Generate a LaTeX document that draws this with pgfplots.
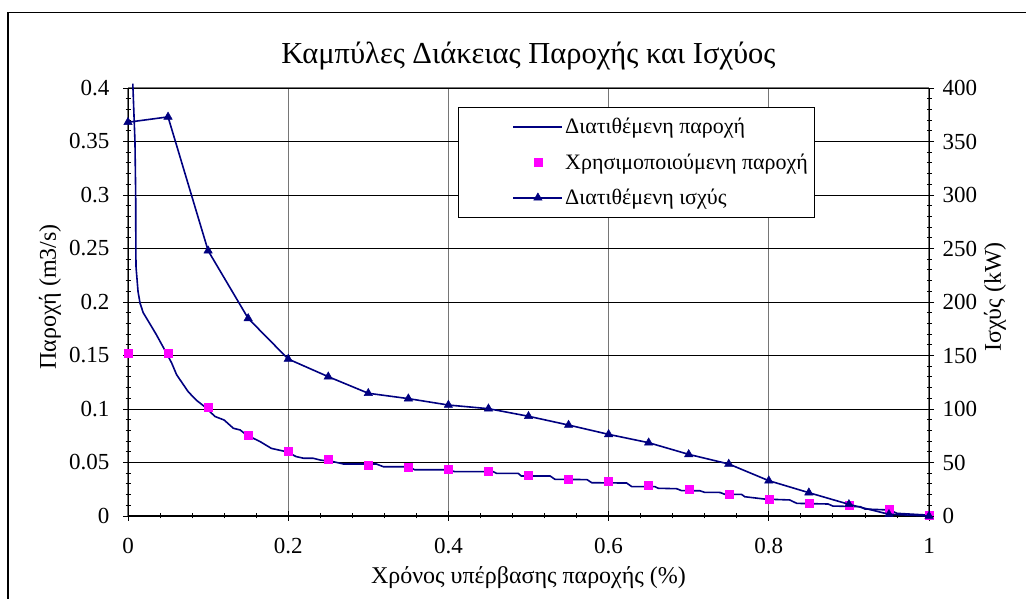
\documentclass[border=0pt]{standalone}
\usepackage{fontspec}
\setmainfont{Liberation Serif}
\usepackage{pgfplots}
\usepackage{pgfplotstable}
\pgfplotsset{compat=1.18}
\definecolor{navy}{RGB}{0,0,128}
\definecolor{mag}{RGB}{255,0,255}
\definecolor{gridgray}{RGB}{118,118,118}

\pgfplotstableread{
x y
0.006 0.404
0.0087 0.35
0.0096 0.30
0.0098 0.25
0.0100 0.233
0.0125 0.210
0.0150 0.199
0.0190 0.190
0.0230 0.185
0.0254 0.182
0.0350 0.170
0.0460 0.155
0.0545 0.143
0.0607 0.132
0.0680 0.124
0.0753 0.116
0.0857 0.108
0.0960 0.102
0.1086 0.093
0.1200 0.0897
0.1315 0.082
0.1400 0.0804
0.1480 0.0757
0.1650 0.0695
0.1790 0.0632
0.1980 0.0600
0.2100 0.0555
0.2190 0.0540
0.2310 0.0540
0.2400 0.0523
0.2560 0.0508
0.2690 0.0486
0.3100 0.0486
0.3190 0.0460
0.3500 0.0460
0.3580 0.0432
0.3990 0.0432
0.4082 0.0414
0.4560 0.0414
0.4600 0.0399
0.4870 0.0399
0.4910 0.0374
0.5270 0.0374
0.5330 0.0343
0.5730 0.0340
0.5790 0.0311
0.6226 0.0308
0.6290 0.0274
0.6580 0.0274
0.6620 0.0259
0.6850 0.0255
0.6910 0.0237
0.7140 0.0236
0.7200 0.0221
0.7390 0.0220
0.7450 0.0203
0.7660 0.0202
0.7700 0.0180
0.7950 0.0158
0.8260 0.0150
0.8350 0.0118
0.8740 0.0112
0.8800 0.0093
0.9140 0.0087
0.9200 0.0065
0.9510 0.0056
0.9600 0.0025
0.9950 0.0010
1.0000 0.0000
}\flowtable

\pgfplotstableread{
x q
0.00 0.152
0.05 0.152
0.10 0.102
0.15 0.0757
0.20 0.0604
0.25 0.0530
0.30 0.0474
0.35 0.0455
0.40 0.0436
0.45 0.0418
0.50 0.0380
0.55 0.0343
0.60 0.0324
0.65 0.0287
0.70 0.0250
0.75 0.0208
0.80 0.0156
0.85 0.0118
0.90 0.0100
0.95 0.0063
1.00 0.0010
}\usedtable

\pgfplotstableread{
x p
0.00 368
0.05 373
0.10 248
0.15 184.7
0.20 146.7
0.25 130.2
0.30 114.7
0.35 109.7
0.40 103.7
0.45 100.3
0.50 93.2
0.55 85.0
0.60 76.3
0.65 68.5
0.70 57.6
0.75 48.6
0.80 33.0
0.85 21.8
0.90 10.9
0.95 1.6
1.00 0.0
}\powertable

\pgfplotsset{
  myaxis/.style={
    at={(128pt,83pt)}, anchor=south west,
    scale only axis, width=801pt, height=428pt,
    xmin=0, xmax=1,
    clip=false,
    tick align=center,
    major tick length=10pt, minor tick length=5pt,
    tick style={black, line width=0.8pt},
    axis line style={-, black, line width=1pt},
    /pgf/number format/assume math mode=true,
    ticklabel style={font=\fontsize{23}{27}\selectfont},
  },
}

\begin{document}
\begin{tikzpicture}[x=1pt,y=1pt]
\useasboundingbox (0pt,0pt) rectangle (1026pt,599pt);
\draw[line width=1.3pt] (8pt,-5pt) -- (8pt,586.5pt) -- (1032pt,586.5pt);

\begin{axis}[myaxis,
  ymin=0, ymax=0.4,
  axis x line*=bottom, axis y line*=left,
  xtick={0,0.2,0.4,0.6,0.8,1}, xticklabels={0,0.2,0.4,0.6,0.8,1},
  minor x tick num=4,
  ytick={0,0.05,0.1,0.15,0.2,0.25,0.3,0.35,0.4},
  yticklabels={0,0.05,0.1,0.15,0.2,0.25,0.3,0.35,0.4},
  minor y tick num=4,
  xticklabel style={yshift=-14pt},
  yticklabel style={xshift=-10pt},
  xmajorgrids, ymajorgrids,
  x grid style={gridgray, line width=1.1pt},
  y grid style={black, line width=0.8pt},
]
\draw[gridgray, line width=1pt] (rel axis cs:0,1) -- (rel axis cs:1,1);
\addplot[navy, line width=1.6pt, no marks] table[x=x,y=y] {\flowtable};
\addplot[only marks, mark=square*, mark size=4pt, mark options={fill=mag, draw=mag}] table[x=x,y=q] {\usedtable};
\end{axis}

\begin{axis}[myaxis,
  ymin=0, ymax=400,
  axis x line=none, axis y line*=right,
  xtick=\empty,
  ytick={0,50,100,150,200,250,300,350,400},
  minor y tick num=4,
  yticklabel style={xshift=5pt},
  legend image code/.code={
    \draw[draw=none] (-51pt,-1pt) rectangle (49pt,1pt);
    \draw[mark repeat=2,mark phase=2,#1] plot coordinates {(0pt,0pt) (24.5pt,0pt) (49pt,0pt)};},
  legend style={at={(0.412,0.956)}, anchor=north west, draw=black, line width=0.8pt,
    font=\fontsize{22}{26}\selectfont, row sep=14.5pt, inner xsep=4pt, inner ysep=9pt},
  legend cell align=left,
]
\addlegendimage{navy, line width=1.6pt}
\addlegendentry{Διατιθέμενη παροχή}
\addlegendimage{only marks, mark=square*, mark size=4pt, mark options={fill=mag, draw=mag}}
\addlegendentry{Χρησιμοποιούμενη παροχή}
\addplot[navy, line width=1.6pt, mark=triangle*, mark size=4.8pt, mark options={fill=navy, draw=navy, line width=0.5pt}] table[x=x,y=p] {\powertable};
\addlegendentry{Διατιθέμενη ισχύς}
\end{axis}

\node[font=\fontsize{30.5}{36}\selectfont] at (528.5pt,543pt) {Καμπύλες Διάκειας Παροχής και Ισχύος};
\node[font=\fontsize{24}{29}\selectfont] at (528.5pt,21pt) {Χρόνος υπέρβασης παροχής (\%)};
\node[font=\fontsize{24}{29}\selectfont, rotate=90] at (50pt,302pt) {Παροχή (m3/s)};
\node[font=\fontsize{24}{29}\selectfont, rotate=90] at (995pt,302pt) {Ισχύς (kW)};
\end{tikzpicture}
\end{document}
